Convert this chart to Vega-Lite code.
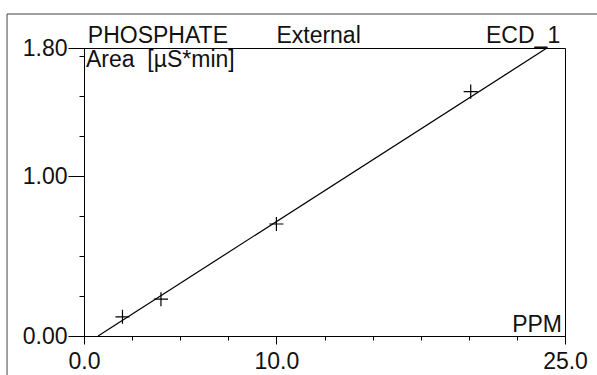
{
  "$schema": "https://vega.github.io/schema/vega-lite/v6.json",
  "width": 481,
  "height": 288,
  "autosize": "none",
  "padding": {"left": 84, "top": 48, "right": 32, "bottom": 39},
  "background": "white",
  "config": {
    "view": {"stroke": "black", "strokeWidth": 1},
    "font": "Liberation Sans",
    "axis": {
      "domainColor": "black",
      "tickColor": "black",
      "labelColor": "#111",
      "labelFont": "Liberation Sans",
      "labelFontSize": 23,
      "grid": false,
      "title": null,
      "labelFlush": false,
      "labelOverlap": false
    }
  },
  "datasets": {
    "points": [
      {"ppm": 2.0, "area": 0.12},
      {"ppm": 4.0, "area": 0.23},
      {"ppm": 10.0, "area": 0.70},
      {"ppm": 20.1, "area": 1.527}
    ],
    "fit": [
      {"ppm": 0.73, "area": 0.0},
      {"ppm": 24.06, "area": 1.8}
    ],
    "one": [{}]
  },
  "layer": [
    {
      "data": {"name": "fit"},
      "mark": {"type": "line", "color": "black", "strokeWidth": 1.2},
      "encoding": {
        "x": {
          "field": "ppm", "type": "quantitative",
          "scale": {"domain": [0, 25], "nice": false, "zero": false},
          "axis": {
            "values": [0, 2.5, 5, 7.5, 10, 12.5, 15, 17.5, 20, 22.5, 25],
            "tickCount": 40,
            "labelExpr": "(datum.value == 0 || datum.value == 10 || datum.value == 25) ? format(datum.value, '.1f') : ''",
            "tickSize": {"condition": {"test": "datum.value == 0 || datum.value == 10 || datum.value == 25", "value": 8}, "value": 4},
            "labelPadding": 6,
            "labelBaseline": "top"
          }
        },
        "y": {
          "field": "area", "type": "quantitative",
          "scale": {"domain": [0, 1.8], "nice": false, "zero": false},
          "axis": {
            "values": [0, 0.25, 0.5, 0.75, 1, 1.25, 1.5, 1.75, 1.8],
            "tickCount": 40,
            "labelExpr": "(datum.value == 0 || datum.value == 1 || datum.value == 1.8) ? format(datum.value, '.2f') : ''",
            "tickSize": {"condition": {"test": "datum.value == 0 || datum.value == 1 || datum.value == 1.8", "value": 16}, "value": 5},
            "labelPadding": 1,
            "labelBaseline": "middle"
          }
        }
      }
    },
    {
      "data": {"name": "points"},
      "mark": {"type": "point", "shape": "M-1,0H1M0,-1V1", "filled": false, "color": "black", "strokeWidth": 1.2, "size": 200, "opacity": 1},
      "encoding": {
        "x": {"field": "ppm", "type": "quantitative"},
        "y": {"field": "area", "type": "quantitative"}
      }
    },
    {
      "data": {"name": "one"},
      "mark": {"type": "text", "text": "PHOSPHATE", "align": "left", "baseline": "alphabetic", "dy": -5, "fontSize": 23, "color": "#111"},
      "encoding": {"x": {"datum": 0.2}, "y": {"datum": 1.8}}
    },
    {
      "data": {"name": "one"},
      "mark": {"type": "text", "text": "External", "align": "left", "baseline": "alphabetic", "dy": -5, "fontSize": 23, "color": "#111"},
      "encoding": {"x": {"datum": 10.0}, "y": {"datum": 1.8}}
    },
    {
      "data": {"name": "one"},
      "mark": {"type": "text", "text": "ECD_1", "align": "right", "baseline": "alphabetic", "dy": -5, "fontSize": 23, "color": "#111"},
      "encoding": {"x": {"datum": 24.75}, "y": {"datum": 1.8}}
    },
    {
      "data": {"name": "one"},
      "mark": {"type": "text", "text": "Area\u00a0\u00a0[µS*min]", "align": "left", "baseline": "alphabetic", "dy": 19, "dx": 2, "fontSize": 23, "color": "#111"},
      "encoding": {"x": {"datum": 0}, "y": {"datum": 1.8}}
    },
    {
      "data": {"name": "one"},
      "mark": {"type": "text", "text": "PPM", "align": "right", "baseline": "alphabetic", "dy": -4, "dx": -3, "fontSize": 23, "color": "#111"},
      "encoding": {"x": {"datum": 25}, "y": {"datum": 0}}
    },
    {
      "data": {"name": "one"},
      "mark": {"type": "rule", "color": "#444", "strokeWidth": 1},
      "encoding": {"x": {"datum": -4.0}, "x2": {"datum": 26.7}, "y": {"datum": 2.0125}}
    },
    {
      "data": {"name": "one"},
      "mark": {"type": "rule", "color": "#444", "strokeWidth": 1},
      "encoding": {"x": {"datum": -4.0}, "y": {"datum": 2.0125}, "y2": {"datum": -0.25}}
    }
  ]
}
